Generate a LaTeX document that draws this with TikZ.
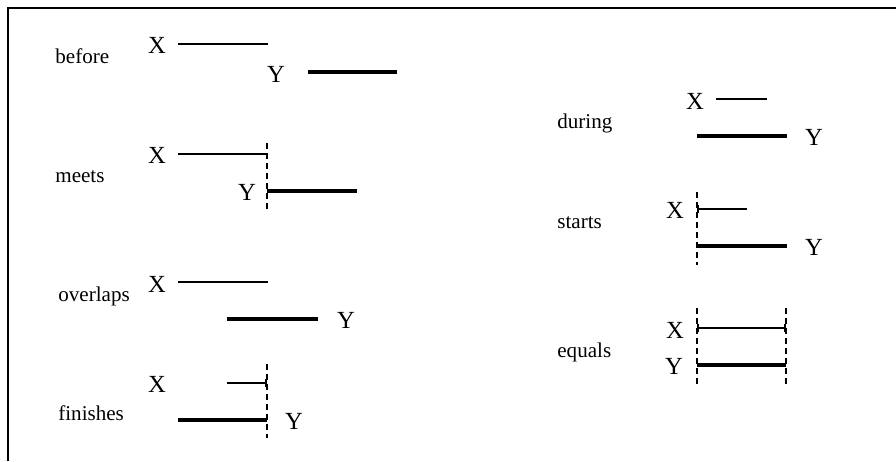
\documentclass[tikz,border=0pt]{standalone}
\usepackage{fontspec}
\setmainfont{Liberation Serif}
\usetikzlibrary{arrows.meta}
\tikzset{ibar/.tip={Bar[width=0.16cm,line width=1.1pt]}}

\begin{document}
\begin{tikzpicture}[x=0.02cm,y=-0.02cm,
    rel/.style={anchor=base west,inner sep=0pt,font=\fontsize{12}{13}\selectfont},
    var/.style={anchor=base,inner sep=0pt,font=\fontsize{14}{15}\selectfont},
    ivthin/.style={line width=0.6pt},
    ivmed/.style={line width=1.1pt},
    ivthick/.style={line width=2.6pt},
    guide/.style={line width=0.8pt,dash pattern=on 0.12cm off 0.08cm},
    rguide/.style={guide,line width=1.5pt}]
\useasboundingbox (0,0) rectangle (896,461);
%\draw[thick] (8,8) rectangle (896,461);
\coordinate (FL) at (8,461);
\coordinate (FC) at (8,8);
\coordinate (FR) at (896,8);
\draw[line width=1.5pt] (FL) -- (FC) -- (FR);

% relation names
\node[rel] (before) at (55,63) {before};
\node[rel] (meets) at (55,182) {meets};
\node[rel] (overlaps) at (58,301) {overlaps};
\node[rel] (finishes) at (58,420) {finishes};
\node[rel] (during) at (557,128) {during};
\node[rel] (starts) at (557,228) {starts};
\node[rel] (equals) at (557,357) {equals};

% X and Y
\node[var] (beforeX) at (157,53) {X};
\node[var] (beforeY) at (276,82) {Y};
\node[var] (meetsX) at (157,163) {X};
\node[var] (meetsY) at (247,200) {Y};
\node[var] (overlapsX) at (157,292) {X};
\node[var] (overlapsY) at (346,328) {Y};
\node[var] (finishesX) at (157,392) {X};
\node[var] (finishesY) at (294,429) {Y};
\node[var] (duringX) at (695,109) {X};
\node[var] (duringY) at (814,145) {Y};
\node[var] (startsX) at (675,218) {X};
\node[var] (startsY) at (814,255) {Y};
\node[var] (equalsX) at (675,338) {X};
\node[var] (equalsY) at (674,374) {Y};

% interval end points
\coordinate (bXa) at (178,44);  \coordinate (bXb) at (268,44);
\coordinate (bYa) at (308,72);  \coordinate (bYb) at (397,72);
\coordinate (mXa) at (178,154); \coordinate (mXb) at (267,154);
\coordinate (mYa) at (267,191); \coordinate (mYb) at (357,191);
\coordinate (oXa) at (178,282); \coordinate (oXb) at (268,282);
\coordinate (oYa) at (227,319); \coordinate (oYb) at (318,319);
\coordinate (fXa) at (227,383); \coordinate (fXb) at (267,383);
\coordinate (fYa) at (178,420); \coordinate (fYb) at (267,420);
\coordinate (dXa) at (716,99);  \coordinate (dXb) at (767,99);
\coordinate (dYa) at (697,136); \coordinate (dYb) at (787,136);
\coordinate (sXa) at (697,209); \coordinate (sXb) at (747,209);
\coordinate (sYa) at (697,246); \coordinate (sYb) at (787,246);
\coordinate (eXa) at (697,328); \coordinate (eXb) at (786,328);
\coordinate (eYa) at (697,365); \coordinate (eYb) at (786,365);

% guides
\coordinate (mGa) at (267,143); \coordinate (mGb) at (267,210);
\coordinate (fGa) at (267,364); \coordinate (fGb) at (267,438);
\coordinate (sGa) at (697,192); \coordinate (sGb) at (697,265);
\coordinate (eGa) at (697,308); \coordinate (eGb) at (697,384);
\coordinate (eHa) at (786,308); \coordinate (eHb) at (786,384);
\draw[guide] (mGa) -- (mGb);
\draw[guide] (fGa) -- (fGb);
\draw[rguide] (sGa) -- (sGb);
\draw[rguide] (eGa) -- (eGb);
\draw[rguide] (eHa) -- (eHb);

\draw[ivthin] (bXa) -- (bXb);
\draw[ivthick] (bYa) -- (bYb);
\draw[ivthin] (mXa) -- (mXb);
\draw[ivthick] (mYa) -- (mYb);
\draw[ivmed] (oXa) -- (oXb);
\draw[ivthick] (oYa) -- (oYb);
\draw[ivmed,-ibar] (fXa) -- (fXb);
\draw[ivthick] (fYa) -- (fYb);
\draw[ivmed] (dXa) -- (dXb);
\draw[ivthick] (dYa) -- (dYb);
\draw[ivmed,ibar-] (sXa) -- (sXb);
\draw[ivthick] (sYa) -- (sYb);
\draw[ivmed,ibar-ibar] (eXa) -- (eXb);
\draw[ivthick] (eYa) -- (eYb);
\end{tikzpicture}
\end{document}
